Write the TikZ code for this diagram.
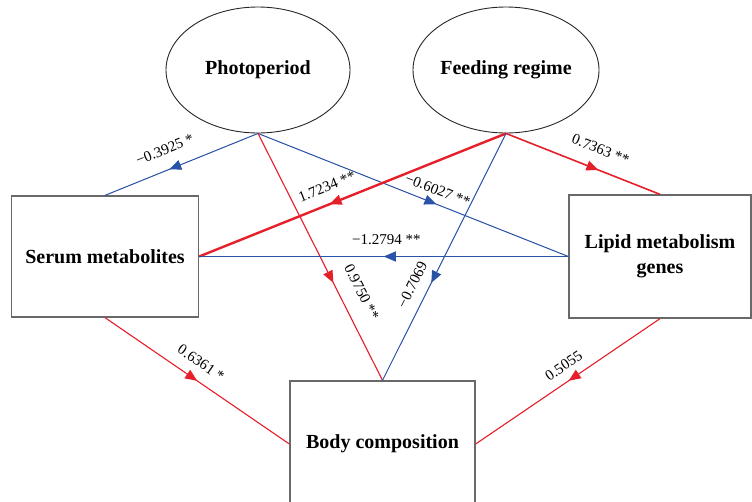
\documentclass[tikz,border=0pt]{standalone}
\usepackage{fontspec}
\setmainfont{Liberation Serif}
\usetikzlibrary{shapes.geometric,arrows.meta,decorations.markings}

\definecolor{pathred}{RGB}{230,32,42}
\definecolor{pathblue}{RGB}{42,82,166}
\definecolor{boxgray}{RGB}{105,105,105}

\tikzset{
  latent/.style={ellipse, draw=black!85, line width=0.9pt, inner sep=0pt,
    font=\bfseries\fontsize{20}{24}\selectfont},
  observed/.style={rectangle, draw=boxgray, line width=1.3pt, inner sep=0pt,
    align=center, font=\bfseries\fontsize{20}{25}\selectfont},
  midarrow/.style={postaction={decorate, decoration={markings,
    mark=at position #1 with {\arrow{Triangle[length=12pt,width=10pt]}}}}},
  pos path/.style={draw=pathred, line width=1.1pt},
  neg path/.style={draw=pathblue, line width=1pt},
  coef/.style={sloped, inner sep=0pt, text=black,
    font=\fontsize{15}{18}\selectfont, above=#1}
}

\begin{document}
\begin{tikzpicture}[x=1pt,y=-1pt]
\useasboundingbox (0,0) rectangle (752,501);
\clip (0,0) rectangle (752,501);

% exogenous factors
\node[latent, minimum width=184pt, minimum height=126pt] (photo) at (258,70) {Photoperiod};
\node[latent, minimum width=186pt, minimum height=126pt] (feed) at (506,70) {Feeding regime};

% measured blocks
\node[observed, minimum width=187pt, minimum height=121pt] (serum) at (105,256.5) {Serum metabolites};
\node[observed, minimum width=182pt, minimum height=123pt] (lipid) at (660,256.5) {Lipid metabolism\\genes};
\node[observed, minimum width=185pt, minimum height=126pt] (body) at (382.5,444) {Body composition};

% paths from photoperiod
\draw[neg path, fill=pathblue, midarrow=0.58] (photo.south) -- (serum.north)
  node[coef=14.5pt, pos=0.56] {−0.3925 *};
\draw[neg path, fill=pathblue, midarrow=0.575] (photo.south) -- (lipid.west)
  node[coef=8pt, pos=0.563] {−0.6027 **};
\draw[pos path, fill=pathred, midarrow=0.605] (photo.south) -- (body.north)
  node[coef=15.5pt, pos=0.682] {0.9750 **};

% paths from feeding regime
\draw[pos path, line width=2.4pt, fill=pathred, midarrow=0.575] (feed.south) -- (serum.east)
  node[coef=11pt, pos=0.563] {1.7234 **};
\draw[pos path, line width=1.6pt, fill=pathred, midarrow=0.6] (feed.south) -- (lipid.north)
  node[coef=14pt, pos=0.567] {0.7363 **};
\draw[neg path, fill=pathblue, midarrow=0.605] (feed.south) -- (body.north)
  node[coef=10.5pt, pos=0.642] {−0.7069};

% paths between measured blocks
\draw[neg path, line width=1.2pt, fill=pathblue, midarrow=0.5] (lipid.west) -- (serum.east)
  node[coef=11pt, pos=0.493] {−1.2794 **};
\draw[pos path, fill=pathred, midarrow=0.5] (serum.south) -- (body.west)
  node[coef=11.5pt, pos=0.469] {0.6361 *};
\draw[pos path, fill=pathred, midarrow=0.495] (lipid.south) -- (body.east)
  node[coef=9.5pt, pos=0.476] {0.5055};
\end{tikzpicture}
\end{document}
